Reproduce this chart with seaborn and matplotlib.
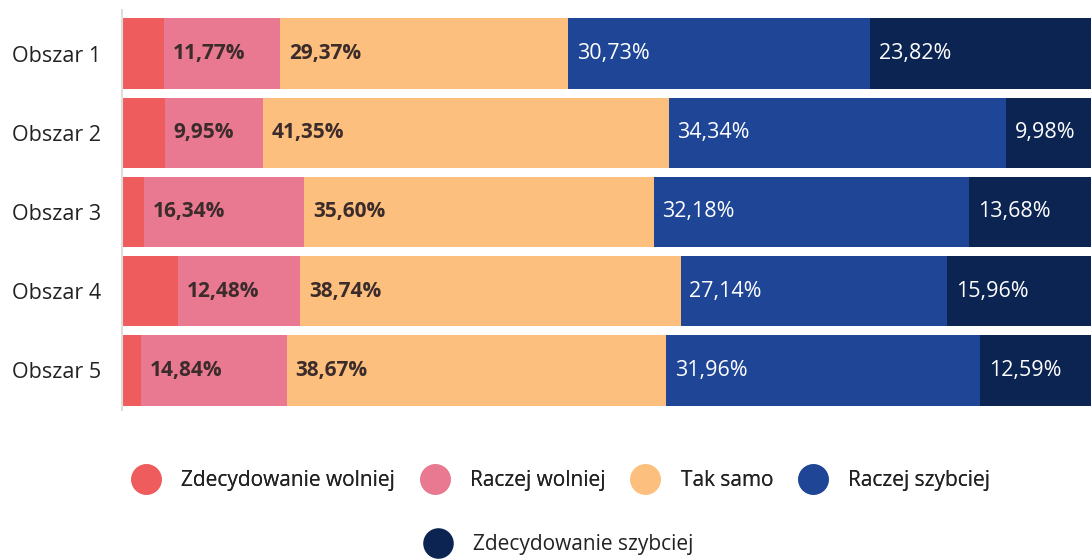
import numpy as np
import pandas as pd
import matplotlib
matplotlib.use("Agg")
import matplotlib.pyplot as plt
from matplotlib.lines import Line2D
import seaborn as sns

# data
categories = ["Obszar 1", "Obszar 2", "Obszar 3", "Obszar 4", "Obszar 5"]
series = ["Zdecydowanie wolniej", "Raczej wolniej", "Tak samo",
          "Raczej szybciej", "Zdecydowanie szybciej"]
zdecydowanie_wolniej = [4.31, 4.38, 2.20, 5.68, 1.94]
raczej_wolniej = [11.77, 9.95, 16.34, 12.48, 14.84]
tak_samo = [29.37, 41.35, 35.60, 38.74, 38.67]
raczej_szybciej = [30.73, 34.34, 32.18, 27.14, 31.96]
zdecydowanie_szybciej = [23.82, 9.98, 13.68, 15.96, 12.59]

colors = ["#ee5c5e", "#e97891", "#fdbf7d", "#1f4597", "#0b2452"]

vals = np.array([zdecydowanie_wolniej, raczej_wolniej, tak_samo,
                 raczej_szybciej, zdecydowanie_szybciej])
cum = vals.cumsum(axis=0)

sns.set_style("white")
plt.rcParams['font.family'] = ['Open Sans', 'DejaVu Sans']

fig = plt.figure(figsize=(10.91, 5.6), dpi=100)
ax = fig.add_axes([0.1118, 0.268, 0.8882, 0.714])

# stacked bars: draw cumulative totals from the right-most segment backwards
for k in range(len(series) - 1, -1, -1):
    df = pd.DataFrame({"cat": categories, "val": cum[k]})
    sns.barplot(data=df, x="val", y="cat", color=colors[k], saturation=1,
                width=0.89, orient="h", ax=ax, linewidth=0)

# segment labels (first segment has none)
for k in range(1, len(series)):
    for i, c in enumerate(categories):
        start = cum[k - 1][i]
        txt = f"{vals[k][i]:.2f}%".replace(".", ",")
        if k < 3:
            ax.text(start + 0.9, i, txt, va="center", ha="left", fontsize=15,
                    fontweight="bold", color="#3b2b2b")
        else:
            ax.text(start + 0.9, i, txt, va="center", ha="left", fontsize=15.5,
                    color="white")

ax.set_xlim(0, 98.7)
ax.set_ylim(4.5, -0.55)
ax.set_xlabel("")
ax.set_ylabel("")
ax.set_xticks([])
ax.tick_params(axis="y", length=0, labelsize=15.5, pad=15, labelcolor="#222222")
for s in ["top", "right", "bottom"]:
    ax.spines[s].set_visible(False)
ax.spines["left"].set_color("#dddddd")
ax.spines["left"].set_linewidth(1.5)

# legend in two rows
handles = [Line2D([0], [0], marker="o", linestyle="", markersize=22,
                  markerfacecolor=colors[k], markeredgewidth=0, label=series[k])
           for k in range(len(series))]
leg1 = fig.legend(handles=handles[:4], loc="center", bbox_to_anchor=(0.511, 0.142),
                  ncol=4, frameon=False, fontsize=15, handletextpad=0.7,
                  columnspacing=0.9, labelcolor="#222222")
fig.add_artist(leg1)
fig.legend(handles=handles[4:], loc="center", bbox_to_anchor=(0.509, 0.027),
           frameon=False, fontsize=15, handletextpad=0.7, labelcolor="#222222")

fig.savefig("out.png", dpi=100)
